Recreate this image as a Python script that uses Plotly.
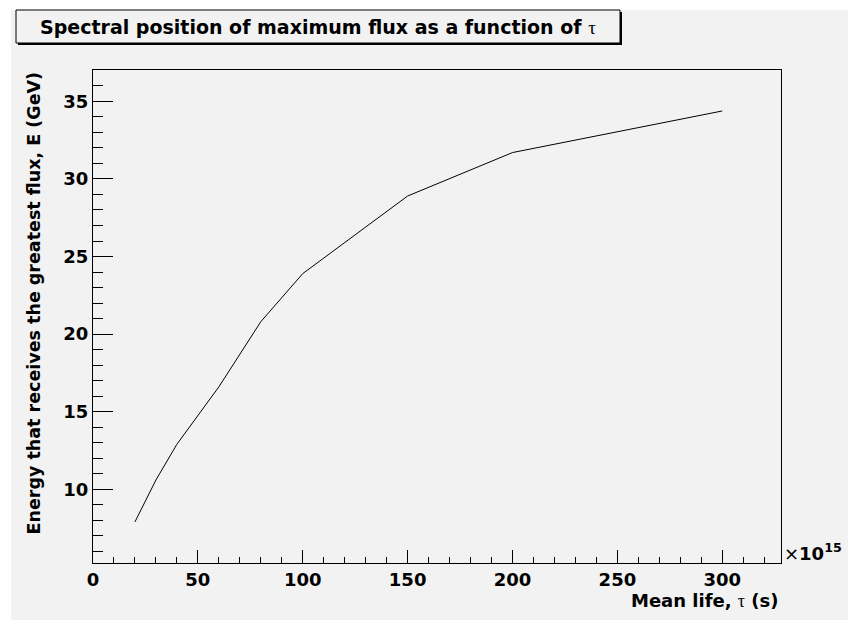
import plotly.graph_objects as go

# Data
tau = [20, 30, 40, 60, 80, 100, 150, 200, 300]          # x 10^15 s
energy = [7.9, 10.6, 12.9, 16.6, 20.8, 23.9, 28.9, 31.7, 34.38]  # GeV

x_ticks = [0, 50, 100, 150, 200, 250, 300]
y_ticks = [10, 15, 20, 25, 30, 35]

# page has an 8px body margin, so the figure is 8px smaller and offset
OFF = 8
W, H = 856 - OFF, 620 - OFF
ML, MR, MT, MB = 93 - OFF, 75, 70 - OFF, 57
PW, PH = W - ML - MR, H - MT - MB


def px(x):  # page pixel -> paper
    return (x - OFF - ML) / PW


def py(y):
    return (OFF + MT + PH - y) / PH


FONT = "DejaVu Sans, Liberation Sans, sans-serif"
tick_font = dict(family=FONT, size=18, color="black", weight="bold")

fig = go.Figure()
fig.add_trace(go.Scatter(x=tau, y=energy, mode="lines",
                         line=dict(color="black", width=1),
                         showlegend=False, hoverinfo="x+y"))

fig.update_layout(
    width=W, height=H,
    margin=dict(l=ML, r=MR, t=MT, b=MB),
    paper_bgcolor="white",
    plot_bgcolor="rgba(0,0,0,0)",
    showlegend=False,
)

fig.update_xaxes(
    range=[0, 328], tickvals=x_ticks, ticktext=[str(v) for v in x_ticks],
    ticks="inside", ticklen=13, tickwidth=1, tickcolor="black",
    minor=dict(dtick=10, ticks="inside", ticklen=6, tickwidth=1, tickcolor="black", showgrid=False),
    showline=True, linecolor="black", linewidth=1, mirror=True,
    showgrid=False, zeroline=False, tickfont=tick_font,
)
fig.update_yaxes(
    range=[5.25, 37.02], tickvals=y_ticks, ticktext=[str(v) for v in y_ticks],
    ticks="inside", ticklen=20, tickwidth=1, tickcolor="black",
    minor=dict(dtick=1, ticks="inside", ticklen=10, tickwidth=1, tickcolor="black", showgrid=False),
    showline=True, linecolor="black", linewidth=1, mirror=True,
    showgrid=False, zeroline=False, tickfont=tick_font,
)

shapes = []
# canvas background
shapes.append(dict(type="rect", xref="paper", yref="paper",
                   x0=px(11), x1=px(860), y0=py(10), y1=py(625),
                   fillcolor="#f2f2f2", line=dict(width=0), layer="below"))
# title box shadow
shapes.append(dict(type="rect", xref="paper", yref="paper",
                   x0=px(18), x1=px(622), y0=py(12), y1=py(45),
                   fillcolor="black", line=dict(width=0), layer="below"))
# title box
shapes.append(dict(type="rect", xref="paper", yref="paper",
                   x0=px(16), x1=px(620), y0=py(10), y1=py(43),
                   fillcolor="#f2f2f2", line=dict(color="black", width=1), layer="below"))
fig.update_layout(shapes=shapes)

ann = []
ann.append(dict(xref="paper", yref="paper", x=px(318), y=py(27),
                xanchor="center", yanchor="middle", showarrow=False,
                text="Spectral position of maximum flux as a function of "
                     "<span style='font-family:Liberation Serif;font-weight:normal'>τ</span>",
                font=dict(family=FONT, size=19, color="black", weight="bold")))
ann.append(dict(xref="paper", yref="paper", x=px(781), y=py(600),
                xanchor="right", yanchor="middle", showarrow=False,
                text="Mean life, <span style='font-family:Liberation Serif;font-weight:normal'>τ</span> (s)",
                font=dict(family=FONT, size=18, color="black", weight="bold")))
ann.append(dict(xref="paper", yref="paper", x=px(33), y=py(70),
                xanchor="center", yanchor="top", showarrow=False, textangle=-90,
                text="Energy that receives the greatest flux, E (GeV)",
                font=dict(family=FONT, size=17.5, color="black", weight="bold")))
ann.append(dict(xref="paper", yref="paper", x=px(782), y=py(552),
                xanchor="left", yanchor="middle", showarrow=False,
                text="<span style='font-weight:normal'>×</span>10<sup>15</sup>",
                font=dict(family=FONT, size=18, color="black", weight="bold")))
fig.update_layout(annotations=ann)

fig.write_html("out.html")
